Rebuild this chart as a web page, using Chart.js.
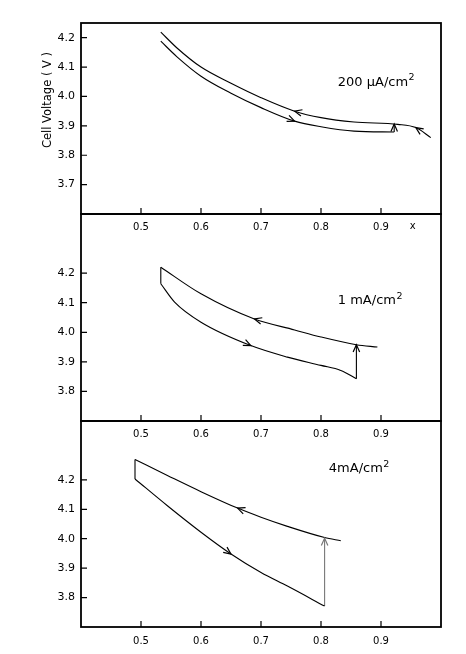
<!DOCTYPE html>
<html>
<head>
<meta charset="utf-8">
<script src="https://cdn.jsdelivr.net/npm/chart.js@4/dist/chart.umd.min.js"></script>
<style>
  html, body { margin: 0; padding: 0; background: #fff; }
  #wrap { position: relative; width: 466px; height: 654px; }
  #wrap canvas { position: absolute; left: 0; }
</style>
</head>
<body>
<div id="wrap">
  <canvas id="c1" width="466" height="240" style="top:0px"></canvas>
  <canvas id="c2" width="466" height="257" style="top:190px"></canvas>
  <canvas id="c3" width="466" height="257" style="top:397px"></canvas>
</div>
<script>
// tick labels
const xTicks = [0.5, 0.6, 0.7, 0.8, 0.9];
const yTicksTop = [3.7, 3.8, 3.9, 4.0, 4.1, 4.2];
const yTicksLow = [3.8, 3.9, 4.0, 4.1, 4.2];

// 200 uA/cm2 : discharge (left -> right), then step, then charge (right -> left)
const dis200X = [0.533, 0.56, 0.60, 0.65, 0.70, 0.756, 0.80, 0.855, 0.922];
const dis200V = [4.188, 4.135, 4.069, 4.011, 3.962, 3.916, 3.897, 3.882, 3.879];
const step200X = [0.922, 0.922];
const step200V = [3.879, 3.906];
const chg200X = [0.983, 0.958, 0.928, 0.855, 0.80, 0.756, 0.70, 0.65, 0.60, 0.56, 0.533];
const chg200V = [3.860, 3.894, 3.905, 3.913, 3.928, 3.950, 3.996, 4.045, 4.100, 4.165, 4.219];

// 1 mA/cm2
const dis1X = [0.533, 0.556, 0.60, 0.683, 0.744, 0.80, 0.833, 0.859];
const dis1V = [4.164, 4.102, 4.034, 3.955, 3.916, 3.888, 3.871, 3.843];
const step1X = [0.859, 0.859];
const step1V = [3.843, 3.958];
const chg1X = [0.894, 0.859, 0.80, 0.756, 0.689, 0.60, 0.533];
const chg1V = [3.950, 3.958, 3.984, 4.008, 4.045, 4.130, 4.220];
const top1X = [0.533, 0.533];
const top1V = [4.220, 4.164];

// 4 mA/cm2
const dis4X = [0.49, 0.544, 0.60, 0.65, 0.70, 0.744, 0.806];
const dis4V = [4.203, 4.112, 4.022, 3.948, 3.885, 3.839, 3.771];
const step4X = [0.806, 0.806];
const step4V = [3.771, 4.002];
const chg4X = [0.833, 0.806, 0.744, 0.70, 0.661, 0.60, 0.544, 0.49];
const chg4V = [3.993, 4.004, 4.042, 4.073, 4.104, 4.160, 4.215, 4.269];
const top4X = [0.49, 0.49];
const top4V = [4.269, 4.203];

const tickFontY = { family: 'DejaVu Sans', size: 11 };
const tickFontX = { family: 'DejaVu Sans', size: 10 };

function pts(xs, vs) {
  return xs.map((x, i) => ({ x: x, y: vs[i] }));
}

function lineSet(xs, vs, color, smooth) {
  return {
    data: pts(xs, vs),
    showLine: true,
    borderColor: color,
    borderWidth: 1.1,
    pointRadius: 0,
    tension: smooth ? 0.4 : 0,
    cubicInterpolationMode: smooth ? 'monotone' : 'default',
    fill: false
  };
}

// position + direction on a series at a given x (linear between samples)
function pointAt(xs, vs, xv, sx, sy) {
  for (let i = 0; i < xs.length - 1; i++) {
    const a = xs[i], b = xs[i + 1];
    if (a !== b && (xv - a) * (xv - b) <= 0) {
      const t = (xv - a) / (b - a);
      const x0 = sx.getPixelForValue(a), y0 = sy.getPixelForValue(vs[i]);
      const x1 = sx.getPixelForValue(b), y1 = sy.getPixelForValue(vs[i + 1]);
      return { x: x0 + t * (x1 - x0), y: y0 + t * (y1 - y0), ang: Math.atan2(y1 - y0, x1 - x0) };
    }
  }
  return null;
}

function chevron(ctx, x, y, ang) {
  const L = 8, w = 0.42;
  ctx.beginPath();
  ctx.moveTo(x - L * Math.cos(ang - w), y - L * Math.sin(ang - w));
  ctx.lineTo(x, y);
  ctx.lineTo(x - L * Math.cos(ang + w), y - L * Math.sin(ang + w));
  ctx.stroke();
}

function decor(p) {
  return {
    id: 'decor',
    afterDraw(chart) {
      const ctx = chart.ctx, a = chart.chartArea;
      const sx = chart.scales.x, sy = chart.scales.y;
      ctx.save();
      ctx.strokeStyle = '#000';
      ctx.fillStyle = '#000';

      // inward tick marks
      ctx.lineWidth = 1.2;
      ctx.beginPath();
      sx.ticks.forEach(t => {
        const px = sx.getPixelForValue(t.value);
        ctx.moveTo(px, a.bottom);
        ctx.lineTo(px, a.bottom - 6);
      });
      sy.ticks.forEach(t => {
        const py = sy.getPixelForValue(t.value);
        ctx.moveTo(a.left, py);
        ctx.lineTo(a.left + 6, py);
      });
      ctx.stroke();

      // frame
      ctx.lineWidth = 1.8;
      ctx.strokeRect(a.left, a.top, a.right - a.left, a.bottom - a.top);

      // arrows on the curves
      ctx.lineWidth = 1.2;
      p.arrows.forEach(ar => {
        const q = pointAt(ar[0], ar[1], ar[2], sx, sy);
        if (q) chevron(ctx, q.x, q.y, q.ang);
      });
      // arrow at top of the step
      const sxs = p.step[0], svs = p.step[1];
      ctx.strokeStyle = p.stepColor;
      chevron(ctx, sx.getPixelForValue(sxs[1]), sy.getPixelForValue(svs[1]), -Math.PI / 2);
      ctx.strokeStyle = '#000';

      // current density label with superscript
      const lx = sx.getPixelForValue(p.label[1]);
      const ly = sy.getPixelForValue(p.label[2]);
      ctx.textBaseline = 'alphabetic';
      ctx.textAlign = 'left';
      ctx.font = '13px "DejaVu Sans"';
      ctx.fillText(p.label[0], lx, ly);
      const w = ctx.measureText(p.label[0]).width;
      ctx.font = '9.5px "DejaVu Sans"';
      ctx.fillText('2', lx + w + 0.5, ly - 5.5);

      // "x" after the axis numbers
      if (p.xMark) {
        ctx.font = '10px "DejaVu Sans"';
        ctx.textAlign = 'center';
        ctx.textBaseline = 'top';
        ctx.fillText('x', sx.getPixelForValue(0.953), a.bottom + 7);
      }

      // y title
      if (p.yTitle) {
        ctx.font = '11.5px "DejaVu Sans"';
        ctx.textAlign = 'center';
        ctx.textBaseline = 'middle';
        ctx.translate(48, 100);
        ctx.rotate(-Math.PI / 2);
        ctx.fillText(p.yTitle, 0, 0);
      }
      ctx.restore();
    }
  };
}

function makePanel(id, p) {
  new Chart(document.getElementById(id), {
    type: 'scatter',
    data: { datasets: p.datasets },
    options: {
      responsive: false,
      animation: false,
      layout: { autoPadding: false, padding: { top: p.padTop, right: 25, bottom: p.padBottom, left: 0 } },
      plugins: { legend: { display: false }, tooltip: { enabled: false } },
      scales: {
        x: {
          type: 'linear',
          min: 0.4,
          max: 1.0,
          afterBuildTicks: s => { s.ticks = xTicks.map(v => ({ value: v })); },
          afterFit: s => { s.height = 26; },
          grid: { display: false, drawTicks: false },
          border: { display: false },
          ticks: { autoSkip: false, padding: p.xPad, color: '#000', font: tickFontX, callback: v => v.toFixed(1) }
        },
        y: {
          type: 'linear',
          min: p.yMin,
          max: p.yMax,
          afterBuildTicks: s => { s.ticks = p.yTicks.map(v => ({ value: v })); },
          afterFit: s => { s.width = 81; },
          grid: { display: false, drawTicks: false },
          border: { display: false },
          ticks: { autoSkip: false, padding: 6, color: '#000', font: tickFontY, callback: v => v.toFixed(1) }
        }
      }
    },
    plugins: [decor(p)]
  });
}

makePanel('c1', {
  padTop: 23, padBottom: 0, xPad: 7,
  yMin: 3.6, yMax: 4.25, yTicks: yTicksTop,
  datasets: [
    lineSet(dis200X, dis200V, '#000', true),
    lineSet(step200X, step200V, '#000', false),
    lineSet(chg200X, chg200V, '#000', true)
  ],
  arrows: [[dis200X, dis200V, 0.756], [chg200X, chg200V, 0.756], [chg200X, chg200V, 0.958]],
  step: [step200X, step200V], stepColor: '#000',
  label: ['200 µA/cm', 0.828, 4.037],
  xMark: true,
  yTitle: 'Cell Voltage ( V )'
});

makePanel('c2', {
  padTop: 24, padBottom: 0, xPad: 7,
  yMin: 3.7, yMax: 4.4, yTicks: yTicksLow,
  datasets: [
    lineSet(top1X, top1V, '#000', false),
    lineSet(dis1X, dis1V, '#000', true),
    lineSet(step1X, step1V, '#000', false),
    lineSet(chg1X, chg1V, '#000', true)
  ],
  arrows: [[dis1X, dis1V, 0.683], [chg1X, chg1V, 0.689]],
  step: [step1X, step1V], stepColor: '#000',
  label: ['1 mA/cm', 0.828, 4.094]
});

makePanel('c3', {
  padTop: 24, padBottom: 1, xPad: 8,
  yMin: 3.7, yMax: 4.4, yTicks: yTicksLow,
  datasets: [
    lineSet(top4X, top4V, '#000', false),
    lineSet(dis4X, dis4V, '#000', true),
    lineSet(step4X, step4V, '#777', false),
    lineSet(chg4X, chg4V, '#000', true)
  ],
  arrows: [[dis4X, dis4V, 0.65], [chg4X, chg4V, 0.661]],
  step: [step4X, step4V], stepColor: '#777',
  label: ['4mA/cm', 0.813, 4.226]
});
</script>
</body>
</html>
